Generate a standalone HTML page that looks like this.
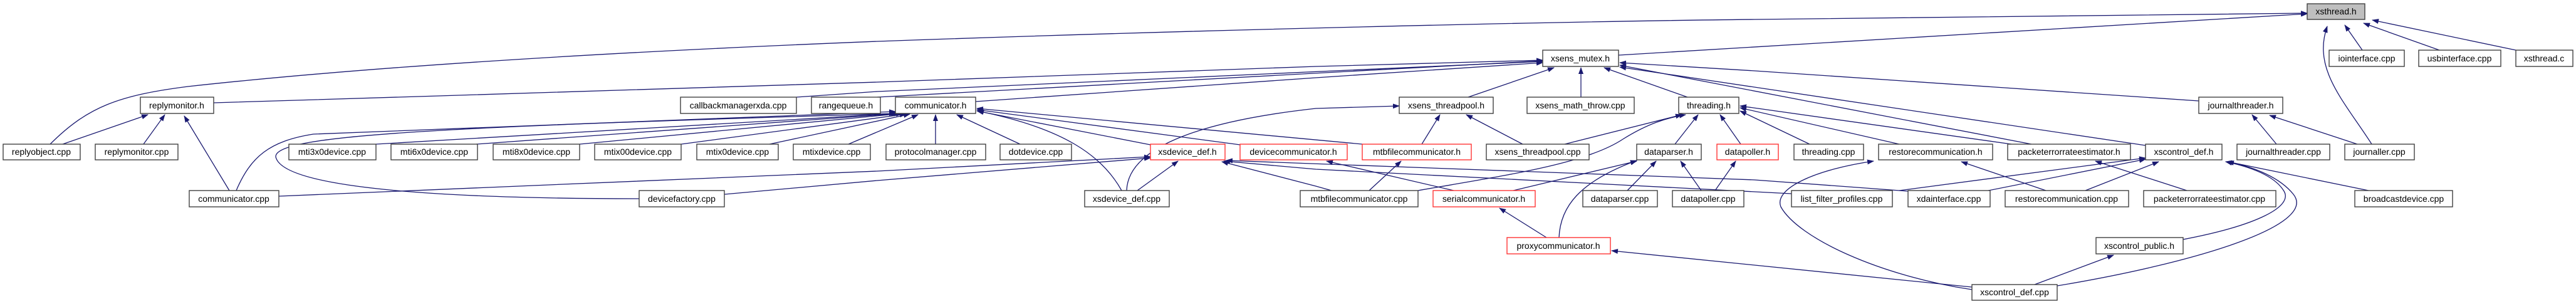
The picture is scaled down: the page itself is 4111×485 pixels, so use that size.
<!DOCTYPE html>
<html><head><meta charset="utf-8"><style>
html,body{margin:0;padding:0;background:#fff;}
svg{display:block;}
text{font-family:"Liberation Sans",sans-serif;font-size:14px;fill:#000;}
.e{fill:none;stroke:#191970;stroke-width:1.3;marker-end:url(#a);}
.b rect{fill:#fff;stroke:#404040;stroke-width:1.4;}
.r rect{fill:#fff;stroke:#ff3333;stroke-width:1.4;}
</style></head><body>
<svg width="4111" height="485" viewBox="0 0 4111 485" xmlns="http://www.w3.org/2000/svg">
<defs><marker id="a" markerUnits="userSpaceOnUse" markerWidth="11" markerHeight="8" refX="10" refY="4" orient="auto"><path d="M0,0 L11,4 L0,8 z" fill="#191970"/></marker></defs>
<g>
<path class="e" d="M2583,88 L3682,22"/>
<path class="e" d="M80,230 C140,170 190,152 300,138 C600,105 1000,82 1400,66 C1900,48 2500,34 2800,31 L3682,21"/>
<path class="e" d="M3785,230 C3740,160 3690,110 3714,42"/>
<path class="e" d="M3770,80 L3742,40"/>
<path class="e" d="M3893,80 L3772,37"/>
<path class="e" d="M4015,80 L3786,32"/>
<path class="e" d="M341,164 L700,153 L1400,131 L2100,106 L2462,96"/>
<path class="e" d="M1557,162 L2100,124 L2462,100"/>
<path class="e" d="M1271,155 L1400,146 L2462,98"/>
<path class="e" d="M1400,155 L2462,97"/>
<path class="e" d="M2343,155 L2480,108"/>
<path class="e" d="M2523,155 L2523,108"/>
<path class="e" d="M2693,155 L2560,108"/>
<path class="e" d="M3509,161 L2800,113 L2585,100"/>
<path class="e" d="M3242,230 L2585,104"/>
<path class="e" d="M3424,232 L2585,107"/>
<path class="e" d="M2888,230 L2777,177"/>
<path class="e" d="M3031,230 L2777,172"/>
<path class="e" d="M3210,230 L2777,169"/>
<path class="e" d="M2673,230 L2710,183"/>
<path class="e" d="M2778,230 L2745,183"/>
<path class="e" d="M2497,230 L2684,183"/>
<path class="e" d="M2263,304 C2400,280 2530,262 2590,222 C2630,197 2660,188 2690,183"/>
<path class="e" d="M2430,230 L2340,183"/>
<path class="e" d="M2269,230 L2298,183"/>
<path class="e" d="M1798,304 C1800,240 1900,195 2100,173 L2233,169"/>
<path class="e" d="M2597,304 L2643,257"/>
<path class="e" d="M2715,304 L2682,257"/>
<path class="e" d="M2737,304 L2770,257"/>
<path class="e" d="M2415,304 L2612,257"/>
<path class="e" d="M2488,379 C2490,330 2520,290 2612,256"/>
<path class="e" d="M2468,379 L2393,332"/>
<path class="e" d="M2320,304 L2117,257"/>
<path class="e" d="M2185,304 L2236,257"/>
<path class="e" d="M2125,304 L2100,297 L1950,258"/>
<path class="e" d="M3045,305 L2800,287 L1957,256"/>
<path class="e" d="M2859,309 L2100,270 L1953,257"/>
<path class="e" d="M1815,304 L1880,257"/>
<path class="e" d="M1790,304 C1760,250 1700,205 1560,177"/>
<path class="e" d="M445,313 L1400,273 L1836,250"/>
<path class="e" d="M1156,310 L1400,288 L1836,252"/>
<path class="e" d="M1020,317 C700,317 450,300 440,250 C440,215 700,203 1429,181"/>
<path class="e" d="M377,304 C400,250 430,225 500,214 L1429,178"/>
<path class="e" d="M366,304 L294,185"/>
<path class="e" d="M100,230 L236,183"/>
<path class="e" d="M229,230 L263,183"/>
<path class="e" d="M600,230 L1432,181"/>
<path class="e" d="M760,230 L1436,181"/>
<path class="e" d="M925,230 L1440,181"/>
<path class="e" d="M1087,230 L1446,182"/>
<path class="e" d="M1228,230 L1452,182"/>
<path class="e" d="M1354,230 L1465,183"/>
<path class="e" d="M1493,230 L1493,183"/>
<path class="e" d="M1628,230 L1527,183"/>
<path class="e" d="M1836,231 L1559,177"/>
<path class="e" d="M1979,231 L1559,175"/>
<path class="e" d="M2174,230 L1559,173"/>
<path class="e" d="M3147,458 L2572,400"/>
<path class="e" d="M3147,462 C3000,440 2870,380 2842,330 C2830,300 2900,270 2990,257"/>
<path class="e" d="M3247,454 L3373,407"/>
<path class="e" d="M3283,456 C3500,420 3700,360 3660,310 C3640,285 3600,266 3552,258"/>
<path class="e" d="M3484,382 C3600,360 3660,330 3645,305 C3630,280 3590,266 3552,258"/>
<path class="e" d="M3780,304 L3555,258"/>
<path class="e" d="M3490,304 L3344,257"/>
<path class="e" d="M3328,304 L3445,258"/>
<path class="e" d="M3265,304 L3130,258"/>
<path class="e" d="M3173,304 L3424,254"/>
<path class="e" d="M3031,304 L3424,252"/>
<path class="e" d="M3633,230 L3594,183"/>
<path class="e" d="M3762,230 L3622,184"/>
</g>
<g id="nodes">
<g class="b"><rect x="3682" y="6" width="92" height="25" style="fill:#bfbfbf"/><text x="3728" y="23" text-anchor="middle">xsthread.h</text></g>
<g class="b"><rect x="2462" y="80" width="121" height="26"/><text x="2522" y="98" text-anchor="middle">xsens_mutex.h</text></g>
<g class="b"><rect x="3717" y="80" width="120" height="26"/><text x="3777" y="98" text-anchor="middle">iointerface.cpp</text></g>
<g class="b"><rect x="3860" y="80" width="131" height="26"/><text x="3925" y="98" text-anchor="middle">usbinterface.cpp</text></g>
<g class="b"><rect x="4015" y="80" width="91" height="26"/><text x="4060" y="98" text-anchor="middle">xsthread.c</text></g>
<g class="b"><rect x="224" y="155" width="117" height="26"/><text x="282" y="173" text-anchor="middle">replymonitor.h</text></g>
<g class="b"><rect x="1086" y="155" width="185" height="26"/><text x="1178" y="173" text-anchor="middle">callbackmanagerxda.cpp</text></g>
<g class="b"><rect x="1295" y="155" width="110" height="26"/><text x="1350" y="173" text-anchor="middle">rangequeue.h</text></g>
<g class="b"><rect x="1429" y="155" width="128" height="26"/><text x="1493" y="173" text-anchor="middle">communicator.h</text></g>
<g class="b"><rect x="2233" y="155" width="150" height="26"/><text x="2308" y="173" text-anchor="middle">xsens_threadpool.h</text></g>
<g class="b"><rect x="2437" y="155" width="171" height="26"/><text x="2522" y="173" text-anchor="middle">xsens_math_throw.cpp</text></g>
<g class="b"><rect x="2679" y="155" width="96" height="26"/><text x="2727" y="173" text-anchor="middle">threading.h</text></g>
<g class="b"><rect x="3509" y="155" width="134" height="26"/><text x="3576" y="173" text-anchor="middle">journalthreader.h</text></g>
<g class="b"><rect x="5" y="230" width="123" height="25"/><text x="66" y="247" text-anchor="middle">replyobject.cpp</text></g>
<g class="b"><rect x="152" y="230" width="132" height="25"/><text x="218" y="247" text-anchor="middle">replymonitor.cpp</text></g>
<g class="b"><rect x="461" y="230" width="139" height="25"/><text x="530" y="247" text-anchor="middle">mti3x0device.cpp</text></g>
<g class="b"><rect x="624" y="230" width="138" height="25"/><text x="693" y="247" text-anchor="middle">mti6x0device.cpp</text></g>
<g class="b"><rect x="787" y="230" width="138" height="25"/><text x="856" y="247" text-anchor="middle">mti8x0device.cpp</text></g>
<g class="b"><rect x="949" y="230" width="138" height="25"/><text x="1018" y="247" text-anchor="middle">mtix00device.cpp</text></g>
<g class="b"><rect x="1112" y="230" width="130" height="25"/><text x="1177" y="247" text-anchor="middle">mtix0device.cpp</text></g>
<g class="b"><rect x="1266" y="230" width="123" height="25"/><text x="1327" y="247" text-anchor="middle">mtixdevice.cpp</text></g>
<g class="b"><rect x="1414" y="230" width="159" height="25"/><text x="1493" y="247" text-anchor="middle">protocolmanager.cpp</text></g>
<g class="b"><rect x="1596" y="230" width="114" height="25"/><text x="1653" y="247" text-anchor="middle">dotdevice.cpp</text></g>
<g class="r"><rect x="1836" y="230" width="119" height="25"/><text x="1895" y="247" text-anchor="middle">xsdevice_def.h</text></g>
<g class="r"><rect x="1979" y="230" width="171" height="25"/><text x="2064" y="247" text-anchor="middle">devicecommunicator.h</text></g>
<g class="r"><rect x="2174" y="230" width="174" height="25"/><text x="2261" y="247" text-anchor="middle">mtbfilecommunicator.h</text></g>
<g class="b"><rect x="2372" y="230" width="164" height="25"/><text x="2454" y="247" text-anchor="middle">xsens_threadpool.cpp</text></g>
<g class="b"><rect x="2612" y="230" width="103" height="25"/><text x="2663" y="247" text-anchor="middle">dataparser.h</text></g>
<g class="r"><rect x="2740" y="230" width="98" height="25"/><text x="2789" y="247" text-anchor="middle">datapoller.h</text></g>
<g class="b"><rect x="2863" y="230" width="111" height="25"/><text x="2918" y="247" text-anchor="middle">threading.cpp</text></g>
<g class="b"><rect x="2998" y="230" width="182" height="25"/><text x="3089" y="247" text-anchor="middle">restorecommunication.h</text></g>
<g class="b"><rect x="3204" y="230" width="196" height="25"/><text x="3302" y="247" text-anchor="middle">packeterrorrateestimator.h</text></g>
<g class="b"><rect x="3424" y="230" width="122" height="25"/><text x="3485" y="247" text-anchor="middle">xscontrol_def.h</text></g>
<g class="b"><rect x="3570" y="230" width="148" height="25"/><text x="3644" y="247" text-anchor="middle">journalthreader.cpp</text></g>
<g class="b"><rect x="3742" y="230" width="111" height="25"/><text x="3797" y="247" text-anchor="middle">journaller.cpp</text></g>
<g class="b"><rect x="302" y="304" width="143" height="26"/><text x="373" y="322" text-anchor="middle">communicator.cpp</text></g>
<g class="b"><rect x="1020" y="304" width="136" height="26"/><text x="1088" y="322" text-anchor="middle">devicefactory.cpp</text></g>
<g class="b"><rect x="1731" y="304" width="135" height="26"/><text x="1798" y="322" text-anchor="middle">xsdevice_def.cpp</text></g>
<g class="b"><rect x="2075" y="304" width="188" height="26"/><text x="2169" y="322" text-anchor="middle">mtbfilecommunicator.cpp</text></g>
<g class="r"><rect x="2287" y="304" width="163" height="26"/><text x="2368" y="322" text-anchor="middle">serialcommunicator.h</text></g>
<g class="b"><rect x="2526" y="304" width="119" height="26"/><text x="2585" y="322" text-anchor="middle">dataparser.cpp</text></g>
<g class="b"><rect x="2669" y="304" width="114" height="26"/><text x="2726" y="322" text-anchor="middle">datapoller.cpp</text></g>
<g class="b"><rect x="2859" y="304" width="161" height="26"/><text x="2939" y="322" text-anchor="middle">list_filter_profiles.cpp</text></g>
<g class="b"><rect x="3045" y="304" width="131" height="26"/><text x="3110" y="322" text-anchor="middle">xdainterface.cpp</text></g>
<g class="b"><rect x="3200" y="304" width="197" height="26"/><text x="3298" y="322" text-anchor="middle">restorecommunication.cpp</text></g>
<g class="b"><rect x="3421" y="304" width="211" height="26"/><text x="3526" y="322" text-anchor="middle">packeterrorrateestimator.cpp</text></g>
<g class="b"><rect x="3758" y="304" width="156" height="26"/><text x="3836" y="322" text-anchor="middle">broadcastdevice.cpp</text></g>
<g class="r"><rect x="2405" y="379" width="165" height="26"/><text x="2487" y="397" text-anchor="middle">proxycommunicator.h</text></g>
<g class="b"><rect x="3345" y="379" width="139" height="26"/><text x="3414" y="397" text-anchor="middle">xscontrol_public.h</text></g>
<g class="b"><rect x="3147" y="454" width="136" height="25"/><text x="3215" y="471" text-anchor="middle">xscontrol_def.cpp</text></g>
</g>
</svg>
</body></html>
